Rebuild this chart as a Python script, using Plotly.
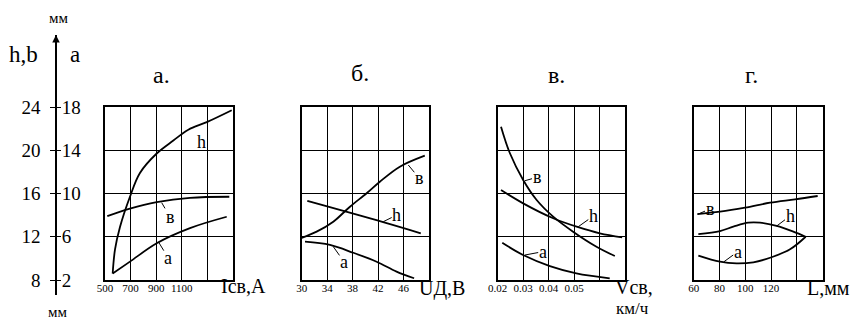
import plotly.graph_objects as go

W, H = 857, 329
FONT = "Liberation Serif, Times New Roman, DejaVu Serif, serif"

# ---------------- data ----------------
# panel а: welding current Icв, A
a_x_h = [560, 578, 617, 695, 773, 904, 1034, 1151, 1295, 1490]
a_h = [8.6, 10.8, 12.9, 15.7, 17.9, 19.7, 20.9, 21.9, 22.6, 23.7]
a_x_b = [518, 695, 904, 1164, 1471]
a_b = [13.9, 14.6, 15.2, 15.6, 15.7]
a_x_a = [560, 695, 904, 1164, 1451]
a_a = [2.6, 3.7, 5.4, 6.8, 7.85]

# panel б: arc voltage UД, В
b_x_b = [30, 32.35, 34.96, 37.58, 40.2, 42.28, 45.42, 49.34]
b_b = [11.9, 12.47, 13.39, 14.78, 16.02, 17.09, 18.48, 19.5]
b_x_h = [30.88, 42.8, 48.71]
b_h = [15.31, 13.35, 12.32]
b_x_a = [30.52, 34.44, 38.1, 41.77, 44.9, 47.66]
b_a = [5.54, 5.24, 4.52, 3.69, 2.77, 2.16]

# panel в: welding speed Vсв, км/ч
c_x_b = [0.0213, 0.0248, 0.030, 0.0353, 0.0418, 0.0496, 0.0588, 0.066]
c_b = [22.18, 19.72, 17.25, 15.4, 13.86, 12.47, 11.08, 10.22]
c_x_h = [0.0213, 0.030, 0.0418, 0.051, 0.0601, 0.0689]
c_h = [16.32, 15.09, 13.71, 12.93, 12.32, 11.95]
c_x_a = [0.0218, 0.030, 0.0405, 0.0509, 0.064]
c_a = [5.45, 4.31, 3.29, 2.62, 2.16]

# panel г: electrode stick-out L, мм
d_x_b = [62.8, 80.4, 99.8, 119.2, 138.5, 156.1]
d_b = [14.1, 14.32, 14.69, 15.15, 15.46, 15.77]
d_x_h = [63.6, 80.4, 90.7, 102.3, 111.4, 124.3, 137.2, 146.8]
d_h = [12.25, 12.53, 12.93, 13.3, 13.3, 13.0, 12.47, 12.0]
d_x_a = [63.6, 80.4, 93.3, 106.2, 119.2, 134.7, 146.8]
d_a = [4.25, 3.69, 3.54, 3.64, 4.06, 4.84, 6.0]

panel_titles = ["а.", "б.", "в.", "г."]
x_ranges = [[500, 1500], [30, 50], [0.02, 0.07], [60, 160]]
x_tickvals = [[500, 700, 900, 1100, 1300], [30, 34, 38, 42, 46],
              [0.02, 0.03, 0.04, 0.05, 0.06], [60, 80, 100, 120, 140]]
x_ticktext = [["500", "700", "900", "1100", ""], ["30", "34", "38", "42", "46"],
              ["0.02", "0.03", "0.04", "0.05", ""], ["60", "80", "100", "120", ""]]
hb_ticks = [8, 12, 16, 20, 24]
a_ticks = [2, 6, 10, 14, 18]
hb_range = [8, 24]
a_range = [2, 18]

series = [
    [(a_x_h, a_h, "hb"), (a_x_b, a_b, "hb"), (a_x_a, a_a, "a")],
    [(b_x_b, b_b, "hb"), (b_x_h, b_h, "hb"), (b_x_a, b_a, "a")],
    [(c_x_b, c_b, "hb"), (c_x_h, c_h, "hb"), (c_x_a, c_a, "a")],
    [(d_x_b, d_b, "hb"), (d_x_h, d_h, "hb"), (d_x_a, d_a, "a")],
]

# ---------------- layout helpers ----------------
def px(x):
    return x / W

def py(y):
    return 1 - y / H

panel_lr = [(105, 233), (301.7, 429), (497.7, 625), (693.7, 822.7)]
panel_tb = (107, 280)

fig = go.Figure()
layout = dict(
    template="none",
    width=W, height=H, autosize=False,
    margin=dict(l=0, r=0, t=0, b=0, pad=0),
    paper_bgcolor="white", plot_bgcolor="rgba(0,0,0,0)",
    showlegend=False,
    font=dict(family=FONT, color="black"),
)

for i in range(4):
    n = i + 1
    L, R = panel_lr[i]
    layout[f"xaxis{n}"] = dict(
        domain=[px(L), px(R)], range=x_ranges[i], anchor=f"y{n}", automargin=False,
        tickvals=x_tickvals[i], ticktext=x_ticktext[i], ticks="",
        showgrid=True, gridcolor="black", gridwidth=1.1,
        showline=True, mirror=True, linecolor="black", linewidth=1.5,
        zeroline=False, tickfont=dict(size=11, family=FONT, color="black"),
        ticklabelstandoff=-3,
    )
    layout[f"yaxis{n}"] = dict(
        domain=[py(panel_tb[1]), py(panel_tb[0])], range=hb_range, anchor=f"x{n}",
        automargin=False, tickvals=hb_ticks, showticklabels=False, ticks="",
        showgrid=True, gridcolor="black", gridwidth=1.1,
        showline=True, mirror=True, linecolor="black", linewidth=1.5,
        zeroline=False,
    )
    layout[f"yaxis{n+4}"] = dict(
        overlaying=f"y{n}", range=a_range, anchor=f"x{n}", visible=False, automargin=False,
    )
    for xs, ys, kind in series[i]:
        fig.add_trace(go.Scatter(
            x=xs, y=ys, mode="lines", line=dict(color="black", width=1.8, shape="spline"),
            xaxis=f"x{n}", yaxis=f"y{n}" if kind == "hb" else f"y{n+4}",
            hoverinfo="skip",
        ))

# common left scale (h, b on the left; a on the right)
axis_top, axis_bot = 35, 295
unit = (panel_tb[1] - panel_tb[0]) / (hb_range[1] - hb_range[0])
lo = hb_range[0] - (axis_bot - panel_tb[1]) / unit
hi = hb_range[1] + (panel_tb[0] - axis_top) / unit
offset = hb_range[0] - a_range[0]
layout["xaxis5"] = dict(domain=[0, 0.01], visible=False, anchor="y9", range=[0, 1],
                        automargin=False)
layout["yaxis9"] = dict(
    domain=[py(axis_bot), py(axis_top)], range=[lo, hi], anchor="free", position=px(56),
    side="left", tickvals=hb_ticks, ticks="outside", ticklen=5, tickwidth=1.2,
    tickcolor="black", showline=True, linecolor="black", linewidth=1.5, automargin=False,
    showgrid=False, zeroline=False, tickfont=dict(size=19, family=FONT, color="black"),
    ticklabelstandoff=6,
)
layout["yaxis10"] = dict(
    overlaying="y9", range=[lo - offset, hi - offset], anchor="free", position=px(56),
    side="right", tickvals=a_ticks, ticks="outside", ticklen=4, tickwidth=1.2,
    tickcolor="black", showline=False, showgrid=False, zeroline=False, automargin=False,
    tickfont=dict(size=19, family=FONT, color="black"),
    ticklabelstandoff=-3,
)
fig.add_trace(go.Scatter(x=[None], y=[None], xaxis="x5", yaxis="y9", hoverinfo="skip"))
fig.add_trace(go.Scatter(x=[None], y=[None], xaxis="x5", yaxis="y10", hoverinfo="skip"))

ann = []
def text(t, x, y, size, **kw):
    ann.append(dict(text=t, x=px(x), y=py(y), xref="paper", yref="paper",
                    showarrow=False, font=dict(size=size, family=FONT, color="black"),
                    xanchor="center", yanchor="middle", **kw))

# arrow tip of the common scale
ann.append(dict(text="", x=px(56), y=py(axis_top), xref="paper", yref="paper",
                showarrow=True, ax=0, ay=18, arrowhead=2, arrowsize=1, arrowwidth=1.5,
                arrowcolor="black"))
text("мм", 58, 18, 15)
text("мм", 57, 312, 15)
text("h,b", 23, 55, 23)
text("a", 75, 55, 23)

title_pos = [(161, 75), (360, 73), (556, 75), (751, 75)]
for t, (x, y) in zip(panel_titles, title_pos):
    text(t, x, y, 24)

text("Iсв,А", 244, 286, 20)
text("UД,В", 442, 288, 20)
text("Vсв,", 634, 287, 20)
text("км/ч", 632, 308, 17)
text("L,мм", 828, 288, 20)

# curve labels with leader lines (point on curve -> text centre)
labels = [
    ("h", (186.5, 133), (201, 142)),
    ("в", (161.7, 202.7), (170, 217)),
    ("a", (158.3, 241.7), (168.3, 258)),
    ("в", (408.3, 165), (419.3, 178.3)),
    ("h", (383.3, 221.7), (396.7, 215)),
    ("a", (333.3, 246.7), (344, 261.7)),
    ("в", (525, 180.7), (537, 177.3)),
    ("h", (578.3, 226.7), (593.3, 216)),
    ("a", (525, 255), (542.7, 251.7)),
    ("в", (698.3, 214), (710, 209)),
    ("h", (776.7, 226), (790, 216)),
    ("a", (724, 261.7), (737.7, 251.7)),
]
for t, (cx, cy), (tx, ty) in labels:
    ann.append(dict(text=t, x=px(cx), y=py(cy), xref="paper", yref="paper",
                    showarrow=True, ax=tx - cx, ay=ty - cy, arrowhead=0,
                    arrowwidth=1, arrowcolor="black", standoff=0, startstandoff=0,
                    font=dict(size=18, family=FONT, color="black"),
                    borderpad=0))

layout["annotations"] = ann
fig.update_layout(**layout)
fig.write_html("out.html", config={"displayModeBar": False},
               post_script="document.body.style.margin='0px';")
